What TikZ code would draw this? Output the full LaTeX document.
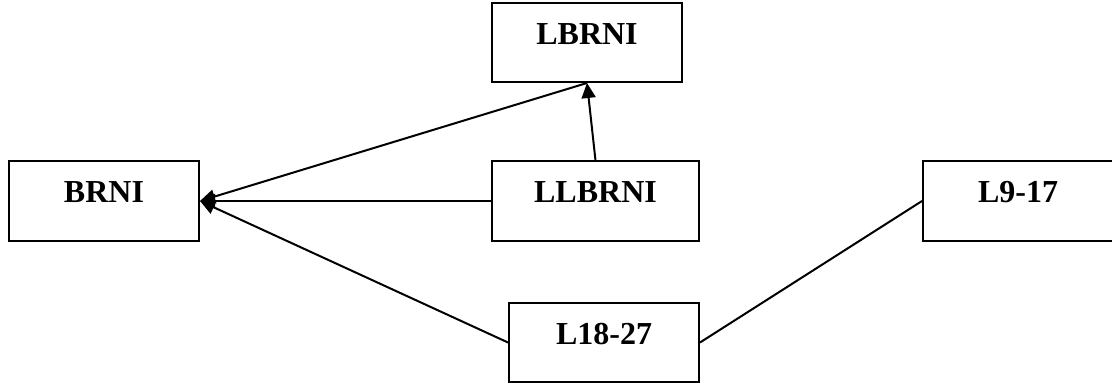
\documentclass[tikz,border=0pt]{standalone}
\usepackage{fontspec}
\setmainfont{Liberation Serif}
\usetikzlibrary{arrows.meta}
\tikzset{box/.style={draw, line width=2pt, inner sep=0pt, minimum width=190pt, minimum height=79pt,
    text height=24pt, text depth=20pt, font=\fontsize{32}{36}\selectfont\bfseries}}
\tikzset{link/.style={line width=2pt}}
\tikzset{arr/.style={link, -{Triangle[length=15pt, width=14pt]}}}

\begin{document}
\begin{tikzpicture}[x=1pt, y=-1pt]
            \useasboundingbox (0,0) rectangle (1112,385);
            \node[box] (lbrni) at (587,42.5) {LBRNI};
            \node[box] (brni) at (104,201) {BRNI};
            \node[box, minimum width=207pt] (llbrni) at (595.5,201) {LLBRNI};
            \node[box] (l1827) at (604,342.5) {L18-27};
            \node[box] (l917) at (1018,201) {L9-17};
            \draw[arr] (llbrni.north) -- (lbrni.south);
            \draw[arr] (lbrni.south) -- (brni.east);
            \draw[arr] (llbrni.west) -- (brni.east);
            \draw[arr] (l1827.west) -- (brni.east);
            \draw[link] (l1827.east) -- (l917.west);
        \end{tikzpicture}
\end{document}
